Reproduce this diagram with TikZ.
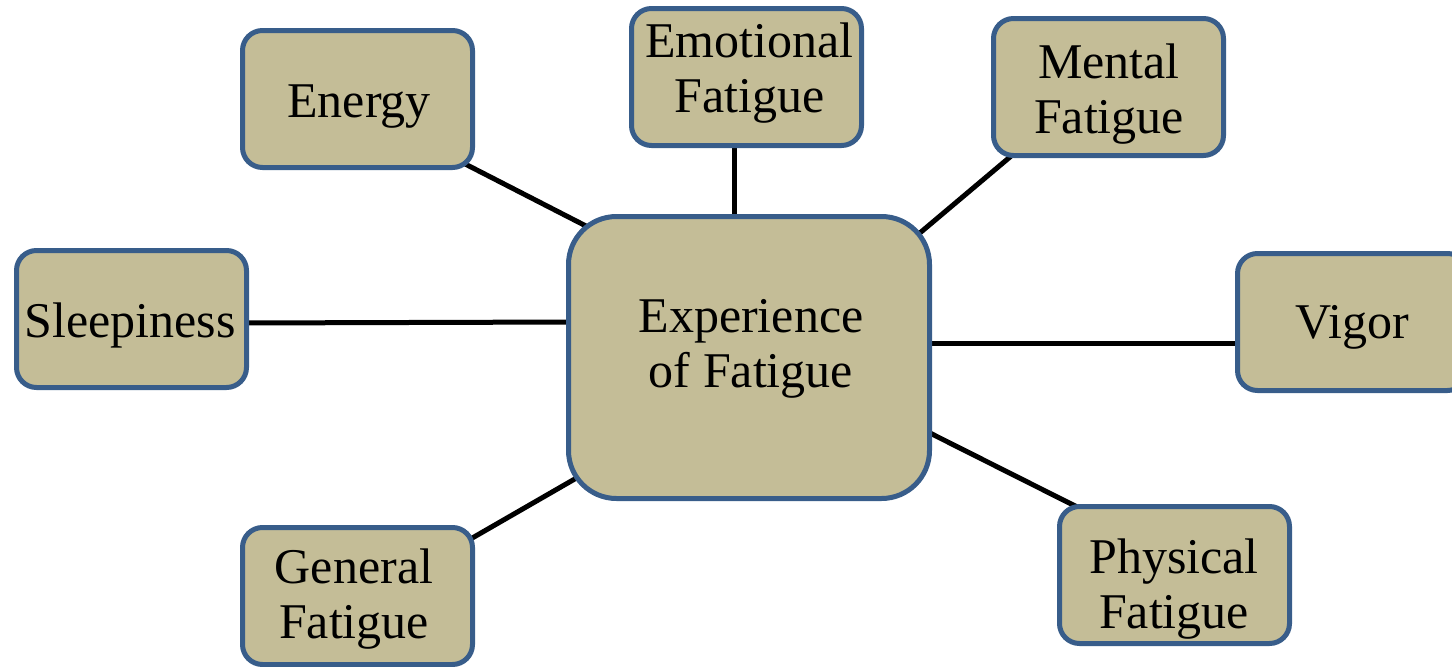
\documentclass[tikz,border=0pt]{standalone}
\usepackage{fontspec}
\setmainfont{Liberation Serif}
\usetikzlibrary{calc,backgrounds}
\definecolor{boxfill}{HTML}{C4BD97}
\definecolor{boxline}{HTML}{385D8A}
\begin{document}
\begin{tikzpicture}[x=1pt,y=-1pt,
  box/.style={draw=boxline, fill=boxfill, line width=5pt, rounded corners=20pt,
    minimum width=230pt, minimum height=137pt, outer sep=0pt, inner sep=0pt},
  bigbox/.style={box, rounded corners=48pt, minimum width=361pt, minimum height=282pt},
  lbl/.style={font=\fontsize{50}{55}\selectfont, align=center, anchor=base, inner sep=0pt},
  link/.style={line width=5pt, draw=black}]
\useasboundingbox (0,0) rectangle (1452,667);
\clip (0,0) rectangle (1452,667);
% boxes
\node[bigbox] (center) at (749,357.5) {};
\node[box] (energy) at (357.5,99) {};
\node[box] (emot) at (746.5,77) {};
\node[box] (mental) at (1108.5,87) {};
\node[box] (sleep) at (131.5,319) {};
\node[box] (vigor) at (1352.5,322) {};
\node[box] (general) at (357.5,596) {};
\node[box] (physical) at (1174.5,575) {};
% labels (base = baseline of the last line)
\node[lbl] (center-t) at (751,387) {Experience\\of Fatigue};
\node[lbl] (energy-t) at (359,117) {Energy};
\node[lbl] (emot-t) at (749.5,112) {Emotional\\Fatigue};
\node[lbl] (mental-t) at (1109,133) {Mental\\Fatigue};
\node[lbl] (sleep-t) at (130,337) {Sleepiness};
\node[lbl] (vigor-t) at (1352,338) {Vigor};
\node[lbl] (general-t) at (354,638) {General\\Fatigue};
\node[lbl] (physical-t) at (1174,628) {Physical\\Fatigue};
% connectors
\begin{pgfonlayer}{background}
\draw[link] ($(energy)+(96,59)$) -- ($(center)+(-151.7,-125.7)$);
\draw[link] ($(emot)+(-12.5,63)$) -- ($(center)+(-15,-135.5)$);
\draw[link] ($(mental)+(-87,60.3)$) -- ($(center)+(160.5,-115.8)$);
\draw[link] ($(sleep)+(108,4)$) -- ($(center)+(-174,-35.5)$);
\draw[link] ($(vigor)+(-107.5,21)$) -- ($(center)+(176,-14.5)$);
\draw[link] ($(general)+(103.5,-51.5)$) -- ($(center)+(-163,115)$);
\draw[link] ($(physical)+(-86,-62.3)$) -- ($(center)+(169.6,69.8)$);
\end{pgfonlayer}
\end{tikzpicture}
\end{document}
